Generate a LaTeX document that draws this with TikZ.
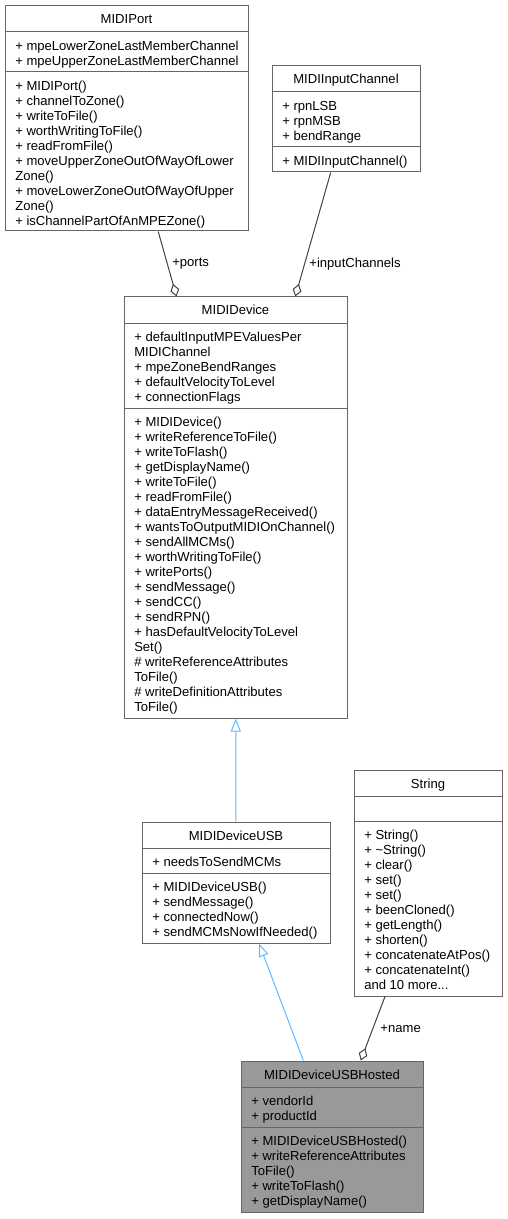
\documentclass[tikz,border=0pt]{standalone}
\usepackage{fontspec}
\setmainfont{Liberation Sans}
\usetikzlibrary{arrows.meta,fit}

\definecolor{boxgray}{HTML}{666666}
\definecolor{hostedgray}{HTML}{999999}
\definecolor{edgegray}{HTML}{404040}
\definecolor{inheritblue}{HTML}{63B8FF}
\newcommand{\umlfont}{\fontsize{9.8}{11.25}\selectfont}

\begin{document}
\begin{tikzpicture}[x=0.75pt, y=-0.75pt]

% Define UML class styles
\tikzstyle{classbox} = [draw=boxgray, line width=0.75pt, fill=white, inner sep=0pt]
\tikzstyle{hostedbox} = [classbox, fill=hostedgray]
\tikzstyle{classtitle} = [anchor=base, inner sep=0pt, font=\umlfont]
\tikzstyle{members} = [anchor=north west, inner sep=0pt, align=left, font=\umlfont]
\tikzstyle{divider} = [draw=boxgray, line width=0.75pt]
\tikzstyle{aggregate} = [draw=edgegray, line width=0.75pt, -{Diamond[open, length=9.75pt, width=6.75pt]}]
\tikzstyle{inherit} = [draw=inheritblue, line width=0.75pt, -{Triangle[open, length=9.75pt, width=7.5pt]}]
\tikzstyle{rolelabel} = [font=\umlfont, right]

\useasboundingbox (0,0) rectangle (507,1219);

% Define nodes (classes)
\node[classbox, fit={(5,6) (248,231)}] (midiPort) {};
\node[classtitle] at (126.5,24) {MIDIPort};
\draw[divider] (5,32) -- (248,32);
\draw[divider] (5,72) -- (248,72);
\node[members] at (15,40) {\strut + mpeLowerZoneLastMemberChannel\\+ mpeUpperZoneLastMemberChannel};
\node[members] at (15,80) {\strut + MIDIPort()\\+ channelToZone()\\+ writeToFile()\\+ worthWritingToFile()\\+ readFromFile()\\+ moveUpperZoneOutOfWayOfLower\\Zone()\\+ moveLowerZoneOutOfWayOfUpper\\Zone()\\+ isChannelPartOfAnMPEZone()};

\node[classbox, fit={(272,66) (420,172)}] (midiInputChannel) {};
\node[classtitle] at (346,84) {MIDIInputChannel};
\draw[divider] (272,92) -- (420,92);
\draw[divider] (272,147) -- (420,147);
\node[members] at (282,100) {\strut + rpnLSB\\+ rpnMSB\\+ bendRange};
\node[members] at (282,155) {\strut + MIDIInputChannel()};

\node[classbox, fit={(124,297) (347,718)}] (midiDevice) {};
\node[classtitle] at (235.5,315) {MIDIDevice};
\draw[divider] (124,323) -- (347,323);
\draw[divider] (124,408) -- (347,408);
\node[members] at (134,331) {\strut + defaultInputMPEValuesPer\\MIDIChannel\\+ mpeZoneBendRanges\\+ defaultVelocityToLevel\\+ connectionFlags};
\node[members] at (134,416) {\strut + MIDIDevice()\\+ writeReferenceToFile()\\+ writeToFlash()\\+ getDisplayName()\\+ writeToFile()\\+ readFromFile()\\+ dataEntryMessageReceived()\\+ wantsToOutputMIDIOnChannel()\\+ sendAllMCMs()\\+ worthWritingToFile()\\+ writePorts()\\+ sendMessage()\\+ sendCC()\\+ sendRPN()\\+ hasDefaultVelocityToLevel\\Set()\\\# writeReferenceAttributes\\ToFile()\\\# writeDefinitionAttributes\\ToFile()};

\node[classbox, fit={(142,822) (330,943)}] (midiDeviceUSB) {};
\node[classtitle] at (236,840) {MIDIDeviceUSB};
\draw[divider] (142,848) -- (330,848);
\draw[divider] (142,873) -- (330,873);
\node[members] at (152,856) {\strut + needsToSendMCMs};
\node[members] at (152,881) {\strut + MIDIDeviceUSB()\\+ sendMessage()\\+ connectedNow()\\+ sendMCMsNowIfNeeded()};

\node[classbox, fit={(354,770) (502,996)}] (string) {};
\node[classtitle] at (428,788) {String};
\draw[divider] (354,796) -- (502,796);
\draw[divider] (354,821) -- (502,821);
\node[members] at (364,829) {\strut + String()\\+ \textasciitilde String()\\+ clear()\\+ set()\\+ set()\\+ beenCloned()\\+ getLength()\\+ shorten()\\+ concatenateAtPos()\\+ concatenateInt()\\and 10 more...};

\node[hostedbox, fit={(241,1061) (423,1212)}] (midiDeviceUSBHosted) {};
\node[classtitle] at (332,1079) {MIDIDeviceUSBHosted};
\draw[divider] (241,1087) -- (423,1087);
\draw[divider] (241,1127) -- (423,1127);
\node[members] at (251,1095) {\strut + vendorId\\+ productId};
\node[members] at (251,1135) {\strut + MIDIDeviceUSBHosted()\\+ writeReferenceAttributes\\ToFile()\\+ writeToFlash()\\+ getDisplayName()};

% Relationships (arrows)
\draw[aggregate] (midiPort) -- node[rolelabel, pos=0.5] {+ports} (midiDevice);
\draw[aggregate] (midiInputChannel) -- node[rolelabel, pos=0.74] {+inputChannels} (midiDevice);
\draw[inherit] (midiDeviceUSB) -- (midiDevice);
\draw[inherit] (midiDeviceUSBHosted) -- (midiDeviceUSB);
\draw[aggregate] (string) -- node[rolelabel, pos=0.5, xshift=2pt] {+name} (midiDeviceUSBHosted);

\end{tikzpicture}
\end{document}
